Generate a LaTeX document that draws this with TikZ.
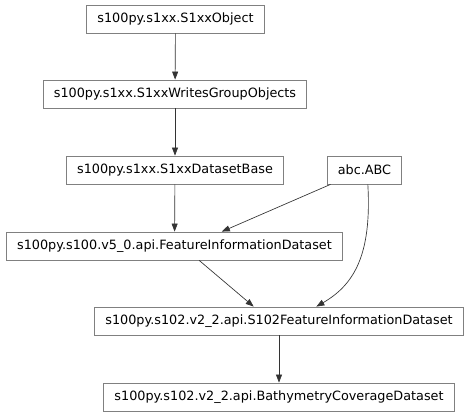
\documentclass[tikz,border=0pt]{standalone}
\usepackage{fontspec}
\setmainfont{DejaVu Sans}
\usetikzlibrary{arrows.meta}
\begin{document}
\begin{tikzpicture}
  [x=0.75pt,y=-0.75pt,
   every node/.style={draw=gray,line width=0.6pt,fill=white,minimum height=21pt,inner xsep=8pt,font=\fontsize{9.6pt}{11pt}\selectfont},
   edge/.style={draw=black!80,line width=0.5pt,-{Triangle[length=6pt,width=4.5pt]}}]
  \useasboundingbox (0,0) rectangle (471,417);
  \node (obj) at (175.5,19) {s100py.s1xx.S1xxObject};
  \node (wgo) at (175,94) {s100py.s1xx.S1xxWritesGroupObjects};
  \node (dsb) at (175,170) {s100py.s1xx.S1xxDatasetBase};
  \node (abc) at (364.5,170) {abc.ABC};
  \node (fid) at (174.5,246) {s100py.s100.v5\_0.api.FeatureInformationDataset};
  \node (sfid) at (279,321) {s100py.s102.v2\_2.api.S102FeatureInformationDataset};
  \node (bcd) at (279,397) {s100py.s102.v2\_2.api.BathymetryCoverageDataset};

  \foreach \from/\to in {obj/wgo,wgo/dsb,dsb/fid,sfid/bcd}
    \draw[edge] (\from) -- (\to);
  \draw[edge] ([xshift=-25.5]abc.south) -- ([xshift=35.5]fid.north);
  \draw[edge] ([xshift=18.5]fid.south) -- ([xshift=-19]sfid.north);
  \draw[edge] ([xshift=2.5]abc.south) .. controls +(4,70) and +(38,-22) .. ([xshift=28]sfid.north);
\end{tikzpicture}
\end{document}
